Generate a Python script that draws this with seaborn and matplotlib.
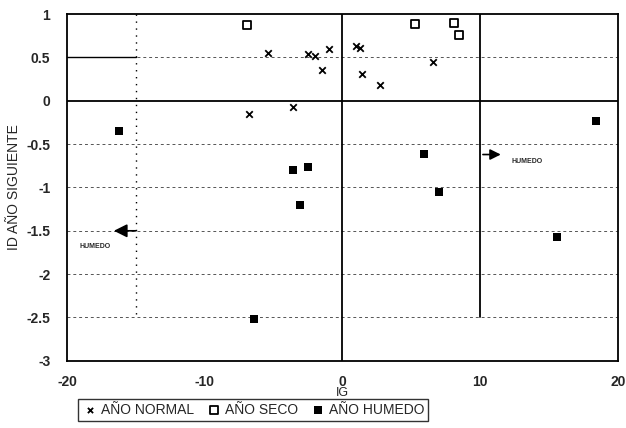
import pandas as pd
import matplotlib.pyplot as plt
import seaborn as sns

# data
normal_ig = [-6.8, -3.6, -5.4, -2.5, -2.0, -1.0, -1.5, 0.95, 1.3, 1.4, 2.75, 6.6]
normal_id = [-0.15, -0.07, 0.55, 0.54, 0.52, 0.6, 0.35, 0.63, 0.61, 0.31, 0.18, 0.45]
seco_ig = [-6.9, 5.3, 8.1, 8.5]
seco_id = [0.88, 0.89, 0.9, 0.76]
humedo_ig = [-16.2, -3.6, -2.5, -3.1, 5.9, 7.0, 18.4, 15.6, -6.4]
humedo_id = [-0.35, -0.8, -0.76, -1.2, -0.61, -1.05, -0.23, -1.57, -2.52]
x_ticks = [-20, -10, 0, 10, 20]
y_ticks = [1, 0.5, 0, -0.5, -1, -1.5, -2, -2.5, -3]

df = pd.DataFrame({
    "IG": normal_ig + seco_ig + humedo_ig,
    "ID": normal_id + seco_id + humedo_id,
    "tipo": ["AÑO NORMAL"] * len(normal_ig) + ["AÑO SECO"] * len(seco_ig)
            + ["AÑO HUMEDO"] * len(humedo_ig),
})

sns.set_style("white")
plt.rcParams["font.family"] = ["Liberation Sans", "DejaVu Sans"]
plt.rcParams["axes.unicode_minus"] = False

fig = plt.figure(figsize=(6.26, 4.28), dpi=100)
ax = fig.add_axes([0.107, 0.157, 0.88, 0.81])

# reference lines
ax.axhline(0, color="black", lw=1.3, zorder=1)
ax.axvline(0, color="black", lw=1.3, zorder=1)
ax.plot([10, 10], [1, -2.5], color="black", lw=1.3, zorder=1)
ax.plot([-15, -15], [1, -2.5], color="black", lw=1, ls=(0, (1, 4)), zorder=1)
ax.plot([-20, -15], [0.5, 0.5], color="black", lw=1, zorder=1)
for yv in [0.5, -0.5, -1, -1.5, -2, -2.5]:
    ax.axhline(yv, color="#555555", lw=0.7, ls=(0, (3, 3)), zorder=0)

sns.scatterplot(data=df[df.tipo == "AÑO NORMAL"], x="IG", y="ID", marker="x",
                color="black", s=22, linewidth=1.3, ax=ax, zorder=3,
                label="AÑO NORMAL")
sns.scatterplot(data=df[df.tipo == "AÑO SECO"], x="IG", y="ID", marker="s",
                facecolor="white", edgecolor="black", s=40, linewidth=1.3,
                ax=ax, zorder=3, label="AÑO SECO")
sns.scatterplot(data=df[df.tipo == "AÑO HUMEDO"], x="IG", y="ID", marker="s",
                color="black", s=40, linewidth=0, ax=ax, zorder=3,
                label="AÑO HUMEDO")

# arrows
ax.annotate("", xy=(-16.8, -1.5), xytext=(-14.8, -1.5),
            arrowprops=dict(arrowstyle="-|>", color="black", lw=1.2,
                            mutation_scale=20))
ax.text(-19.1, -1.68, "HUMEDO", fontsize=5, fontweight="bold", va="center")
ax.annotate("", xy=(11.7, -0.62), xytext=(10, -0.62),
            arrowprops=dict(arrowstyle="-|>", color="black", lw=1.2,
                            mutation_scale=16))
ax.text(12.3, -0.7, "HUMEDO", fontsize=5, fontweight="bold", va="center")

ax.set_xlim(-20, 20)
ax.set_ylim(-3, 1)
ax.set_xticks(x_ticks)
ax.set_yticks(y_ticks)
ax.set_yticklabels([f"{v:g}" for v in y_ticks])
ax.tick_params(direction="in", length=3, labelsize=10, width=1)
ax.tick_params(axis="x", pad=10)
ax.tick_params(axis="y", pad=12)
for lab in ax.get_xticklabels() + ax.get_yticklabels():
    lab.set_fontweight("bold")
for sp in ax.spines.values():
    sp.set_color("black")
    sp.set_linewidth(1.3)

ax.set_xlabel("IG", fontsize=9, labelpad=-1)
ax.set_ylabel("ID AÑO SIGUIENTE", fontsize=10, labelpad=4)

ax.legend(loc="upper center", bbox_to_anchor=(0.338, -0.11), ncol=3,
          frameon=True, fancybox=False, edgecolor="black", fontsize=10,
          handletextpad=0.2, columnspacing=0.8, borderpad=0.3,
          handlelength=1.2, borderaxespad=0, markerscale=0.8)

fig.savefig("out.png", dpi=100)
